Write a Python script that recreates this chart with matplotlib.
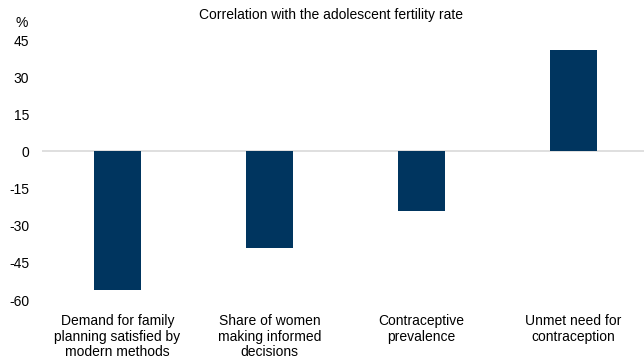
import matplotlib
matplotlib.use("Agg")
import matplotlib.pyplot as plt

plt.rcParams['font.family'] = ['Liberation Sans', 'DejaVu Sans']

categories = ["Demand for family\nplanning satisfied by\nmodern methods",
              "Share of women\nmaking informed\ndecisions",
              "Contraceptive\nprevalence",
              "Unmet need for\ncontraception"]
values = [-56, -39, -24, 41]
yticks = [45, 30, 15, 0, -15, -30, -45, -60]

fig = plt.figure(figsize=(6.44, 3.6), dpi=100)
ax = fig.add_axes([41.5/644, 60/360, 608/644, 260/360])

x = range(len(categories))
ax.bar(x, values, width=0.31, color='#00355f', zorder=3)
ax.axhline(0, color='#d9d9d9', lw=1.2, zorder=2)

ax.set_ylim(-60, 45)
ax.set_xlim(-0.5, len(categories) - 0.5)
ax.set_yticks(yticks)
ax.set_yticklabels([str(t) for t in yticks], fontsize=10, color='#000000')
ax.set_xticks(list(x))
ax.set_xticklabels(categories, fontsize=10, linespacing=1.15)
ax.tick_params(axis='x', length=0, pad=10)
ax.tick_params(axis='y', length=0, pad=9)
for s in ax.spines.values():
    s.set_visible(False)

fig.text(331/644, 1 - 15/360, "Correlation with the adolescent fertility rate",
         ha='center', va='center', fontsize=10)
fig.text(22/644, 1 - 23/360, "%", ha='center', va='center', fontsize=10)

fig.savefig("out.png", dpi=100)
